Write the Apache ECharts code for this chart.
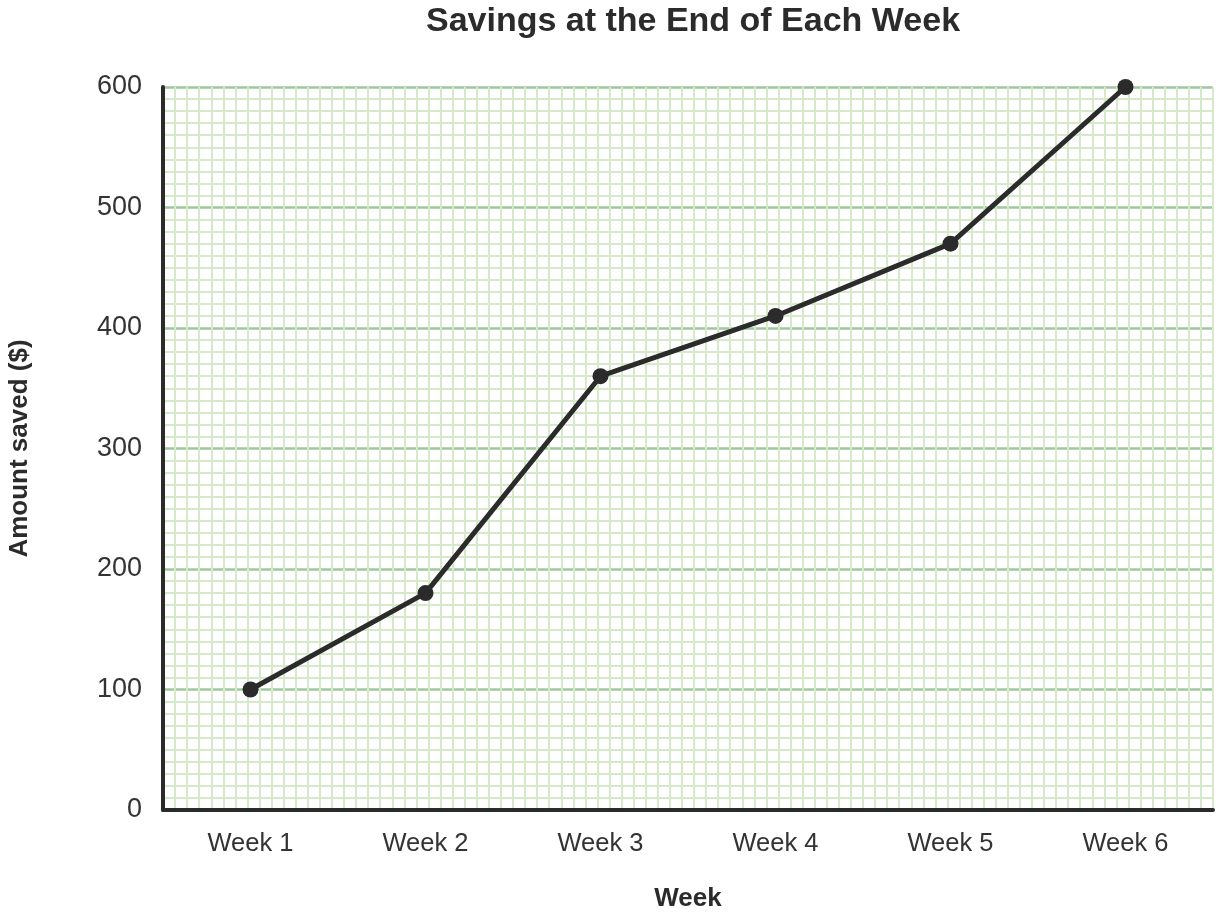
<!DOCTYPE html>
<html>
<head>
<meta charset="utf-8">
<script src="https://cdn.jsdelivr.net/npm/echarts@6/dist/echarts.min.js"></script>
<style>html,body{margin:0;padding:0;background:#fff}#c{width:1221px;height:913px}</style>
</head>
<body>
<div id="c"></div>
<script>
const categories = ['Week 1', 'Week 2', 'Week 3', 'Week 4', 'Week 5', 'Week 6'];
const savings = [100, 180, 360, 410, 470, 600];
const yTicks = [0, 100, 200, 300, 400, 500, 600];

const chart = echarts.init(document.getElementById('c'));
const font = 'Liberation Sans, Arial, sans-serif';
chart.setOption({
  animation: false,
  title: {
    text: 'Savings at the End of Each Week',
    left: 688, top: 0, textAlign: 'center',
    textStyle: { fontFamily: font, fontSize: 34, fontWeight: 'bold', color: '#2b2b2b' }
  },
  grid: { left: 163, right: 8, top: 87, bottom: 103, outerBoundsMode: 'none', containLabel: false },
  xAxis: [
    {
      type: 'category', data: categories, boundaryGap: true,
      name: 'Week', nameLocation: 'middle', nameGap: 76,
      nameTextStyle: { fontFamily: font, fontSize: 26, fontWeight: 'bold', color: '#2b2b2b' },
      axisLine: { lineStyle: { color: '#2b2b2b', width: 4 } },
      axisTick: { show: false },
      axisLabel: { fontFamily: font, fontSize: 25.5, color: '#333', margin: 21 },
      splitLine: { show: false },
      z: 5
    },
    {
      type: 'value', min: 0, max: 87, interval: 1, show: true, position: 'top',
      axisLine: { show: false }, axisTick: { show: false }, axisLabel: { show: false },
      splitLine: { show: true, lineStyle: { color: '#d6e9ca', width: 2 } }
    }
  ],
  yAxis: {
    type: 'value', min: 0, max: 600, interval: 100,
    name: 'Amount saved ($)', nameLocation: 'middle', nameGap: 130, nameRotate: 90,
    nameTextStyle: { fontFamily: font, fontSize: 26, fontWeight: 'bold', color: '#2b2b2b' },
    axisLine: { show: true, lineStyle: { color: '#2b2b2b', width: 4 } },
    axisTick: { show: false },
    axisLabel: { fontFamily: font, fontSize: 27, color: '#333', margin: 21,
      formatter: v => yTicks.includes(v) ? String(v) : '' },
    splitLine: { show: true, lineStyle: { color: '#a0c89e', width: 2.5 } },
    minorTick: { show: false, splitNumber: 10 },
    minorSplitLine: { show: true, lineStyle: { color: '#d6e9ca', width: 2 } }
  },
  series: [{
    type: 'line', data: savings, xAxisIndex: 0,
    lineStyle: { color: '#2b2b2b', width: 5 },
    itemStyle: { color: '#2b2b2b' },
    symbol: 'circle', symbolSize: 16, z: 10
  }]
});
</script>
</body>
</html>
